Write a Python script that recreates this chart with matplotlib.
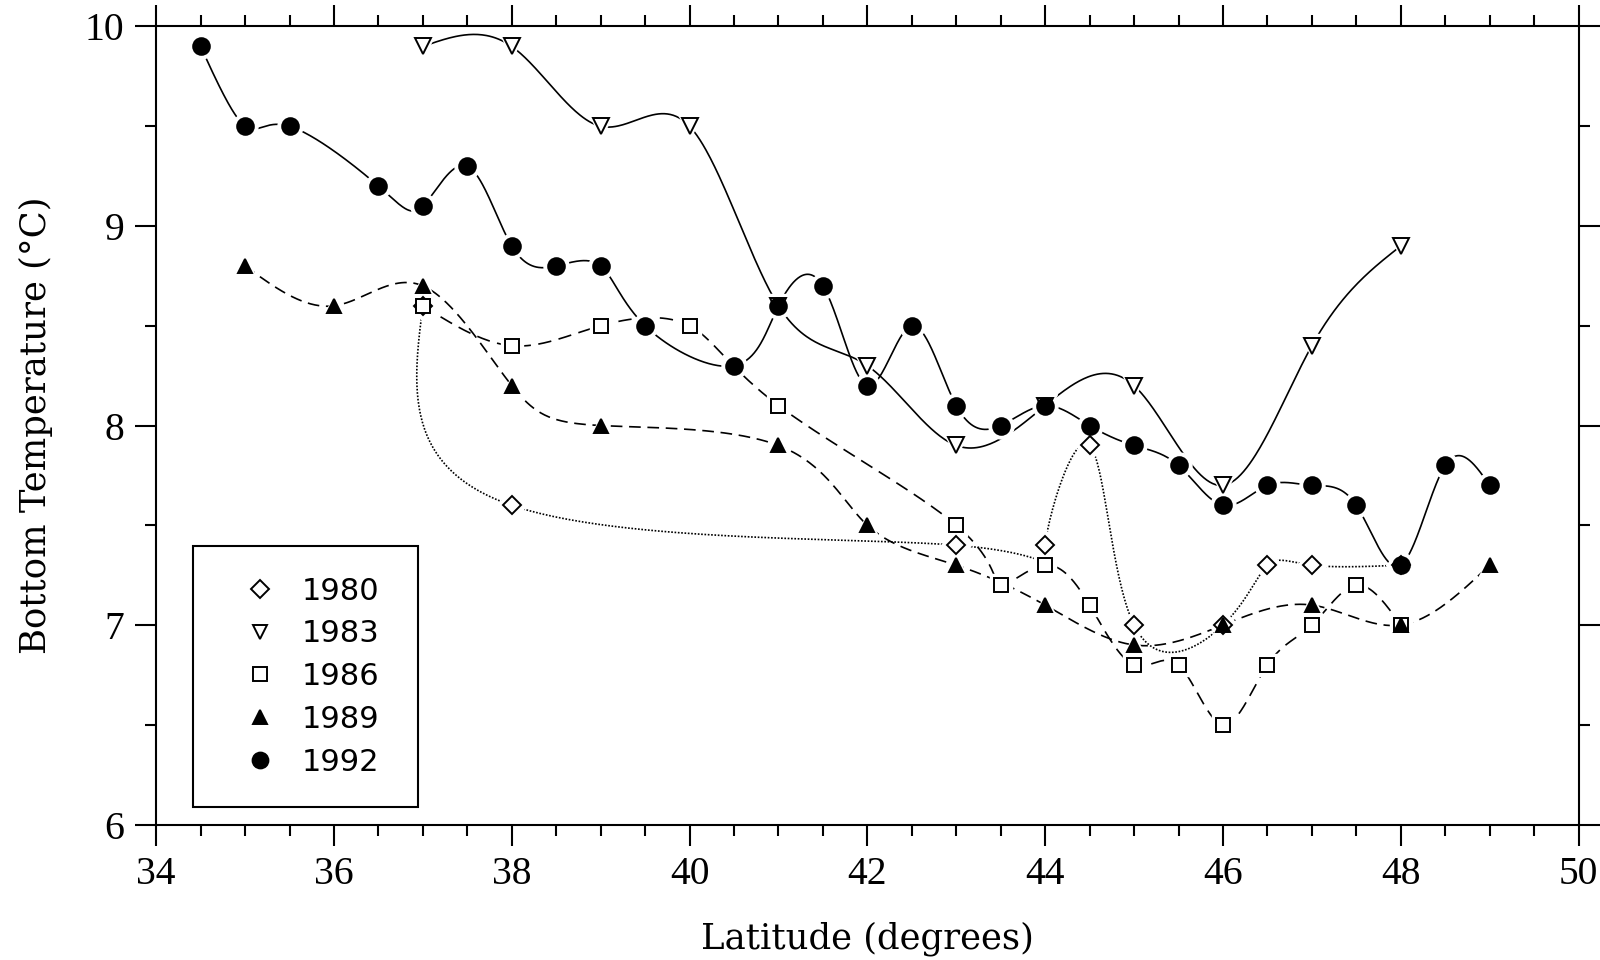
import numpy as np
import matplotlib
matplotlib.use("Agg")
import matplotlib.pyplot as plt
from matplotlib.lines import Line2D
from matplotlib.ticker import MultipleLocator

# ---- data ----
years = ["1980", "1983", "1986", "1989", "1992"]

lat_1980 = [37, 38, 43, 44, 44.5, 45, 46, 46.5, 47, 48]
temp_1980 = [8.6, 7.6, 7.4, 7.4, 7.9, 7.0, 7.0, 7.3, 7.3, 7.3]

lat_1983 = [37, 38, 39, 40, 41, 42, 43, 44, 45, 46, 47, 48]
temp_1983 = [9.9, 9.9, 9.5, 9.5, 8.6, 8.3, 7.9, 8.1, 8.2, 7.7, 8.4, 8.9]

lat_1986 = [37, 38, 39, 40, 41, 43, 43.5, 44, 44.5, 45, 45.5, 46, 46.5, 47, 47.5, 48]
temp_1986 = [8.6, 8.4, 8.5, 8.5, 8.1, 7.5, 7.2, 7.3, 7.1, 6.8, 6.8, 6.5, 6.8, 7.0, 7.2, 7.0]

lat_1989 = [35, 36, 37, 38, 39, 41, 42, 43, 44, 45, 46, 47, 48, 49]
temp_1989 = [8.8, 8.6, 8.7, 8.2, 8.0, 7.9, 7.5, 7.3, 7.1, 6.9, 7.0, 7.1, 7.0, 7.3]

lat_1992 = [34.5, 35, 35.5, 36.5, 37, 37.5, 38, 38.5, 39, 39.5, 40.5, 41, 41.5,
            42, 42.5, 43, 43.5, 44, 44.5, 45, 45.5, 46, 46.5, 47, 47.5, 48, 48.5, 49]
temp_1992 = [9.9, 9.5, 9.5, 9.2, 9.1, 9.3, 8.9, 8.8, 8.8, 8.5, 8.3, 8.6, 8.7,
             8.2, 8.5, 8.1, 8.0, 8.1, 8.0, 7.9, 7.8, 7.6, 7.7, 7.7, 7.6, 7.3, 7.8, 7.7]

x_ticks = [34, 36, 38, 40, 42, 44, 46, 48, 50]
y_ticks = [6, 7, 8, 9, 10]


def natural_spline_1d(t, v, ts):
    t = np.asarray(t, float)
    v = np.asarray(v, float)
    n = len(t)
    h = np.diff(t)
    A = np.zeros((n, n))
    b = np.zeros(n)
    A[0, 0] = 1.0
    A[-1, -1] = 1.0
    for i in range(1, n - 1):
        A[i, i - 1] = h[i - 1]
        A[i, i] = 2 * (h[i - 1] + h[i])
        A[i, i + 1] = h[i]
        b[i] = 6 * ((v[i + 1] - v[i]) / h[i] - (v[i] - v[i - 1]) / h[i - 1])
    M = np.linalg.solve(A, b)
    idx = np.clip(np.searchsorted(t, ts) - 1, 0, n - 2)
    t0, t1 = t[idx], t[idx + 1]
    hh = t1 - t0
    return (M[idx] * (t1 - ts) ** 3 / (6 * hh) + M[idx + 1] * (ts - t0) ** 3 / (6 * hh)
            + (v[idx] / hh - M[idx] * hh / 6) * (t1 - ts)
            + (v[idx + 1] / hh - M[idx + 1] * hh / 6) * (ts - t0))


def param_spline(x, y, per=60):
    t = np.arange(len(x), dtype=float)
    ts = np.linspace(0, len(x) - 1, per * (len(x) - 1) + 1)
    return natural_spline_1d(t, x, ts), natural_spline_1d(t, y, ts)


fig = plt.figure(figsize=(16, 9.6), dpi=100)
ax = fig.add_axes([0.0976, 0.1411, 0.8890, 0.8313])

serif = ["DejaVu Serif"]

# (x, y, marker, face, linestyle, marker size)
series = [
    (lat_1980, temp_1980, "D", "white", (0, (1, 1.0)), 9.5),
    (lat_1983, temp_1983, "v", "white", "-", 11),
    (lat_1986, temp_1986, "s", "white", (0, (8, 4.5)), 10),
    (lat_1989, temp_1989, "^", "black", (0, (7, 4)), 10),
    (lat_1992, temp_1992, "o", "black", "-", 12),
]

for k, (xv, yv, mk, fc, ls, ms) in enumerate(series):
    xs, ys = param_spline(xv, yv)
    ax.plot(xs, ys, color="black", lw=1.2, ls=ls, zorder=2)
    ax.plot(xv, yv, ls="none", marker=mk, ms=ms + 6, mfc="white", mec="white",
            zorder=3)
for k, (xv, yv, mk, fc, ls, ms) in enumerate(series):
    ax.plot(xv, yv, ls="none", marker=mk, ms=ms, mfc=fc, mec="black",
            mew=1.4, zorder=4)

ax.set_xlim(34, 50)
ax.set_ylim(6, 10)
ax.set_xticks(x_ticks)
ax.set_yticks(y_ticks)
ax.xaxis.set_minor_locator(MultipleLocator(0.5))
ax.yaxis.set_minor_locator(MultipleLocator(0.5))
ax.tick_params(which="both", direction="out", top=True, right=True,
               labeltop=False, labelright=False, width=1.5, color="black")
ax.tick_params(which="major", length=15)
ax.tick_params(which="minor", length=8)
ax.tick_params(axis="both", pad=8)
for lab in ax.get_xticklabels() + ax.get_yticklabels():
    lab.set_family(["Liberation Serif"])
    lab.set_fontsize(28.5)
for s in ax.spines.values():
    s.set_linewidth(1.5)

ax.set_xlabel("Latitude (degrees)", family=serif, fontsize=25.5, labelpad=20)
ax.set_ylabel("Bottom Temperature (°C)", family=serif, fontsize=25.5, labelpad=23)

handles = []
for (xv, yv, mk, fc, ls, ms), yr in zip(series, years):
    handles.append(Line2D([], [], ls="none", marker=mk,
                          ms=ms * 0.95,
                          mfc=fc, mec="black", mew=1.4, label=yr))
leg = ax.legend(handles=handles, loc="lower left",
                bbox_to_anchor=(0.026, 0.0219, 0.158, 0.32), mode="expand",
                frameon=True, fancybox=False,
                edgecolor="black", framealpha=1, borderpad=1.0,
                handlelength=2.35, handletextpad=0.2, labelspacing=0.45,
                prop={"family": "DejaVu Sans", "size": 22}, borderaxespad=0)
leg.get_frame().set_linewidth(1.5)

fig.savefig("out.png", dpi=100)
